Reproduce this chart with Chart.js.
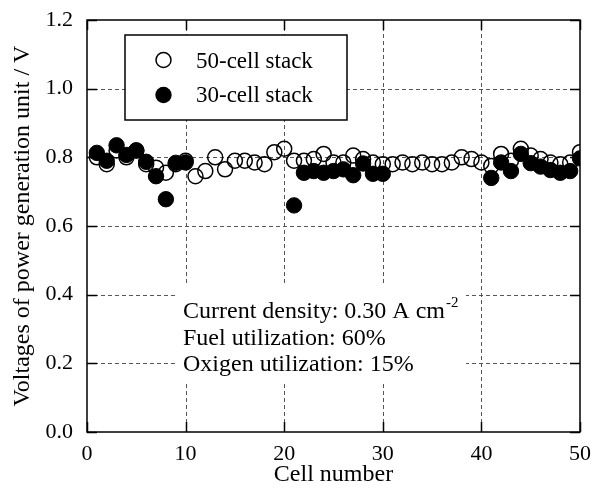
<!DOCTYPE html>
<html>
<head>
<meta charset="utf-8">
<script src="https://cdn.jsdelivr.net/npm/chart.js@4"></script>
<style>
  html, body { margin: 0; padding: 0; background: #fff; }
  canvas { display: block; }
</style>
</head>
<body>
<canvas id="c" width="592" height="492"></canvas>
<script>
// ---- data ----
const cells50 = [1,2,3,4,5,6,7,8,9,10,11,12,13,14,15,16,17,18,19,20,21,22,23,24,25,26,27,28,29,30,31,32,33,34,35,36,37,38,39,40,41,42,43,44,45,46,47,48,49,50];
const volts50 = [0.80,0.78,0.82,0.80,0.82,0.78,0.77,0.755,0.78,0.79,
                 0.745,0.76,0.80,0.765,0.79,0.79,0.785,0.78,0.815,0.825,
                 0.79,0.79,0.795,0.81,0.785,0.785,0.805,0.795,0.785,0.78,
                 0.78,0.785,0.78,0.785,0.78,0.78,0.785,0.80,0.795,0.785,
                 0.775,0.81,0.79,0.825,0.805,0.795,0.785,0.78,0.785,0.815];
const cells30 = [1,2,3,4,5,6,7,8,9,10,21,22,23,24,25,26,27,28,29,30,41,42,43,44,45,46,47,48,49,50];
const volts30 = [0.813,0.79,0.835,0.807,0.82,0.787,0.745,0.678,0.784,0.785,
                 0.66,0.755,0.76,0.755,0.76,0.765,0.748,0.782,0.752,0.752,
                 0.74,0.785,0.76,0.81,0.783,0.773,0.763,0.755,0.76,0.797];
const xTickValues = [0,10,20,30,40,50];
const yTickValues = [0.0,0.2,0.4,0.6,0.8,1.0,1.2];
const seriesNames = ['50-cell stack','30-cell stack'];
const xTitle = 'Cell number';
const yTitle = 'Voltages of power generation unit / V';
const noteLines = ['Current density: 0.30 A cm', 'Fuel utilization: 60%', 'Oxigen utilization: 15%'];
const noteSup = '-2';

const FONT = "'Liberation Serif', 'Times New Roman', serif";

const toPts = (xs, ys) => xs.map((x, i) => ({x: x, y: ys[i]}));

const zeroPad = s => { s.paddingLeft = 0; s.paddingRight = 0; s.paddingTop = 0; s.paddingBottom = 0; };

const deco = {
  id: 'deco',
  beforeDraw(chart) {
    const ctx = chart.ctx;
    ctx.save();
    ctx.fillStyle = '#fff';
    ctx.fillRect(0, 0, chart.width, chart.height);
    ctx.restore();
  },
  beforeDatasetsDraw(chart) {
    const {ctx, chartArea: a, scales: {x, y}} = chart;
    ctx.save();
    // dashed grid
    ctx.strokeStyle = '#555';
    ctx.lineWidth = 1;
    ctx.setLineDash([4, 3]);
    x.ticks.forEach(t => {
      if (t.value <= x.min || t.value >= x.max) return;
      const px = Math.round(x.getPixelForValue(t.value)) + 0.5;
      ctx.beginPath(); ctx.moveTo(px, a.top); ctx.lineTo(px, a.bottom); ctx.stroke();
    });
    y.ticks.forEach(t => {
      if (t.value <= y.min + 1e-9 || t.value >= y.max - 1e-9) return;
      const py = Math.round(y.getPixelForValue(t.value)) + 0.5;
      ctx.beginPath(); ctx.moveTo(a.left, py); ctx.lineTo(a.right, py); ctx.stroke();
    });
    ctx.setLineDash([]);

    // white boxes
    ctx.fillStyle = '#fff';
    ctx.fillRect(125, 35, 222, 85);
    ctx.fillRect(176, 286, 290, 96);

    // legend
    ctx.strokeStyle = '#000';
    ctx.lineWidth = 1.5;
    ctx.strokeRect(125, 35, 222, 85);
    ctx.beginPath(); ctx.arc(163.5, 60, 7.5, 0, Math.PI * 2); ctx.stroke();
    ctx.fillStyle = '#000';
    ctx.beginPath(); ctx.arc(163.5, 95, 8.2, 0, Math.PI * 2); ctx.fill();
    ctx.font = '23px ' + FONT;
    ctx.textBaseline = 'alphabetic';
    ctx.textAlign = 'left';
    ctx.fillText(seriesNames[0], 196, 68);
    ctx.fillText(seriesNames[1], 196, 102);

    // annotation
    ctx.font = '24px ' + FONT;
    ctx.fillText(noteLines[0], 183, 318);
    const w0 = ctx.measureText(noteLines[0]).width;
    ctx.fillText(noteLines[1], 183, 344.5);
    ctx.fillText(noteLines[2], 183, 371);
    ctx.font = '15px ' + FONT;
    ctx.fillText(noteSup, 183 + w0 + 1, 307);

    // frame
    ctx.lineWidth = 1.5;
    ctx.strokeStyle = '#000';
    ctx.strokeRect(a.left, a.top, a.right - a.left, a.bottom - a.top);
    // inward ticks
    const TL = 10;
    x.ticks.forEach(t => {
      const px = Math.round(x.getPixelForValue(t.value)) + 0.5;
      ctx.beginPath();
      ctx.moveTo(px, a.bottom); ctx.lineTo(px, a.bottom - TL);
      ctx.moveTo(px, a.top); ctx.lineTo(px, a.top + TL);
      ctx.stroke();
    });
    y.ticks.forEach(t => {
      const py = Math.round(y.getPixelForValue(t.value)) + 0.5;
      ctx.beginPath();
      ctx.moveTo(a.left, py); ctx.lineTo(a.left + TL, py);
      ctx.moveTo(a.right, py); ctx.lineTo(a.right - TL, py);
      ctx.stroke();
    });
    ctx.restore();
  }
};

new Chart(document.getElementById('c'), {
  type: 'scatter',
  data: {
    datasets: [
      {
        label: seriesNames[1],
        data: toPts(cells30, volts30),
        pointRadius: 7.7,
        pointBorderWidth: 1,
        pointBackgroundColor: '#000',
        pointBorderColor: '#000',
        showLine: false
      },
      {
        label: seriesNames[0],
        data: toPts(cells50, volts50),
        pointRadius: 7.5,
        pointBorderWidth: 1.5,
        pointBackgroundColor: 'rgba(0,0,0,0)',
        pointBorderColor: '#000',
        showLine: false
      }
    ]
  },
  options: {
    responsive: false,
    animation: false,
    devicePixelRatio: 1,
    layout: { padding: { left: 0, right: 12, top: 20, bottom: 0 } },
    plugins: { legend: { display: false }, tooltip: { enabled: false } },
    scales: {
      x: {
        type: 'linear',
        min: 0, max: 50,
        afterBuildTicks: s => { s.ticks = xTickValues.map(v => ({value: v})); },
        afterFit: s => { s.height = 60; zeroPad(s); },
        grid: { display: false, drawTicks: false },
        border: { display: false },
        ticks: { color: '#000', padding: 9, font: { family: FONT, size: 22 }, maxRotation: 0,
                 callback: v => String(v) },
        title: { display: true, text: xTitle, color: '#000', padding: { top: 0, bottom: 3 },
                 font: { family: FONT, size: 24, lineHeight: 1.2 } }
      },
      y: {
        type: 'linear',
        min: 0, max: 1.2,
        afterBuildTicks: s => { s.ticks = yTickValues.map(v => ({value: v})); },
        afterFit: s => { s.width = 87; zeroPad(s); },
        grid: { display: false, drawTicks: false },
        border: { display: false },
        ticks: { color: '#000', padding: 14, font: { family: FONT, size: 22 },
                 callback: v => Number(v).toFixed(1) },
        title: { display: true, text: yTitle, color: '#000', padding: { top: 8, bottom: 0 },
                 font: { family: FONT, size: 24, lineHeight: 1.2 } }
      }
    }
  },
  plugins: [deco]
});
</script>
</body>
</html>
